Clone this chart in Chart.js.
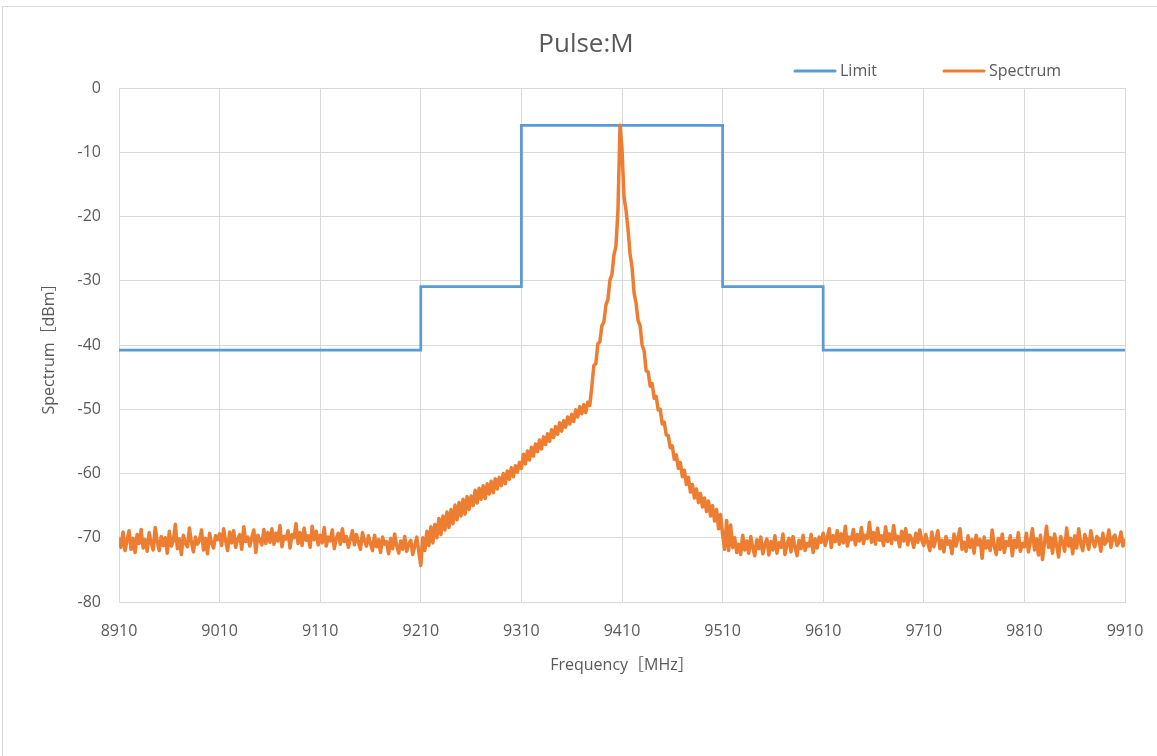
<!DOCTYPE html>
<html>
<head>
<meta charset="utf-8">
<script src="https://cdn.jsdelivr.net/npm/chart.js@4.4.1/dist/chart.umd.min.js"></script>
<style>
  html, body { margin: 0; padding: 0; background: #ffffff; overflow: hidden; }
  #wrap { position: relative; width: 1157px; height: 756px; }
  #frame { position: absolute; left: 2px; top: 6px; width: 1200px; height: 800px; border: 1px solid #d9d9d9; box-sizing: border-box; }
  #c { position: absolute; left: 0; top: 0; }
</style>
</head>
<body>
<div id="wrap">
  <div id="frame"></div>
  <canvas id="c" width="1157" height="756"></canvas>
</div>
<script>
// ---------- data ----------
const chartTitle = 'Pulse:M';
const xAxisTitle = 'Frequency［MHz］';
const yAxisTitle = 'Spectrum［dBm］';
const seriesNames = ['Limit', 'Spectrum'];

const xTickValues = [8910, 9010, 9110, 9210, 9310, 9410, 9510, 9610, 9710, 9810, 9910];
const yTickValues = [0, -10, -20, -30, -40, -50, -60, -70, -80];

// Limit mask (stepped: each value holds until the next frequency)
const limitFreqs = [8910, 9210, 9310, 9510, 9610, 9910];
const limitValues = [-40.8, -30.9, -5.8, -30.9, -40.8, -40.8];

// Spectrum trace, sampled every 2 MHz from 8910 MHz
const spectrumStart = 8910;
const spectrumStep = 2;
const spectrumValues = [
  -70.2,-71.5,-69.1,-72.0,-70.4,-68.9,-71.8,-70.1,-72.3,-69.5,-70.9,-68.7,-71.6,-70.3,-72.1,-69.2,-70.8,-71.9,-68.4,-70.6,-72.0,-69.8,-71.2,-70.0,-72.4,
  -69.0,-71.3,-70.5,-67.9,-71.7,-70.2,-72.6,-69.6,-70.9,-71.4,-68.5,-70.7,-72.2,-69.9,-71.0,-70.4,-68.8,-71.9,-70.1,-72.5,-69.3,-70.8,-71.6,-69.7,-70.3,
  -69.4,-71.2,-68.6,-70.5,-72.0,-69.1,-70.8,-68.9,-71.5,-70.2,-69.5,-71.8,-68.3,-70.6,-69.9,-71.3,-70.0,-68.8,-72.3,-69.6,-70.4,-71.1,-68.7,-70.9,-69.2,
  -70.7,-68.6,-71.0,-69.3,-70.5,-68.1,-71.4,-69.8,-70.2,-68.9,-71.6,-69.5,-70.0,-67.8,-70.9,-69.2,-71.2,-68.5,-70.4,-69.7,-71.5,-68.2,-70.3,-69.0,-71.1,
  -69.6,-70.8,-68.4,-71.3,-69.9,-70.5,-68.8,-71.7,-70.1,-69.3,-71.0,-68.6,-70.6,-69.8,-71.5,-70.2,-68.9,-71.1,-69.5,-70.7,-71.8,-69.2,-70.4,-71.3,-69.7,
  -70.9,-72.0,-69.6,-71.4,-70.3,-72.3,-69.9,-71.0,-70.6,-72.5,-70.1,-71.7,-69.4,-71.2,-72.4,-70.5,-71.8,-69.8,-72.1,-71.0,-70.4,-72.6,-71.3,-69.9,-72.2,
  -74.3,-70.0,-72.0,-69.0,-71.2,-68.3,-70.8,-67.9,-70.0,-67.0,-69.5,-66.6,-68.8,-66.0,-68.4,-65.6,-67.8,-64.9,-67.2,-64.5,-66.6,-64.0,-66.3,-63.6,-65.6,
  -63.5,-65.0,-62.6,-64.6,-62.3,-64.0,-61.9,-63.9,-61.6,-63.2,-61.2,-63.0,-60.8,-62.4,-60.6,-61.9,-60.0,-61.6,-59.6,-60.9,-59.1,-60.5,-58.8,-59.8,-58.3,
  -59.2,-57.0,-58.5,-56.5,-57.9,-55.9,-57.3,-55.4,-56.6,-54.8,-56.2,-54.3,-55.5,-53.8,-55.0,-53.2,-54.4,-52.7,-53.9,-52.1,-53.4,-51.8,-52.8,-51.2,-52.3,
  -50.8,-51.9,-50.1,-51.2,-49.6,-50.7,-49.3,-50.5,-48.9,-49.4,-46.5,-43.2,-42.9,-39.8,-39.5,-37.0,-36.4,-33.8,-32.9,-29.9,-29.0,-26.0,-24.6,-19.0,-5.8,
  -9.5,-17.0,-19.0,-22.0,-25.8,-27.9,-31.9,-33.5,-36.2,-37.0,-40.0,-40.9,-44.0,-44.2,-46.4,-46.0,-48.3,-48.0,-50.1,-50.0,-52.3,-52.0,-54.0,-54.1,-56.0,
  -55.7,-57.8,-57.1,-59.2,-58.3,-60.5,-59.5,-61.7,-60.6,-62.9,-61.7,-63.8,-62.4,-64.5,-63.1,-65.2,-63.8,-65.9,-64.3,-66.6,-65.0,-67.4,-65.6,-68.6,-66.4,
  -69.5,-71.8,-67.3,-72.0,-68.0,-71.5,-70.0,-72.3,-71.0,-72.6,-69.6,-71.9,-70.5,-72.4,-69.8,-71.6,-72.8,-70.3,-71.7,-69.9,-72.5,-71.1,-70.2,-72.7,-70.6,
  -71.9,-69.7,-72.4,-70.8,-71.5,-69.4,-72.6,-71.0,-70.1,-72.2,-69.8,-71.4,-72.8,-70.4,-71.7,-69.6,-72.0,-70.9,-71.3,-69.5,-72.3,-70.2,-71.6,-69.9,-70.7,
  -69.3,-71.2,-70.0,-68.6,-71.5,-69.7,-70.6,-68.9,-71.0,-69.4,-70.8,-68.2,-71.3,-69.9,-70.3,-68.7,-71.1,-69.5,-70.5,-68.4,-70.9,-69.6,-70.1,-67.6,-70.7,
  -69.2,-71.0,-68.5,-70.4,-69.7,-71.2,-68.3,-70.6,-69.4,-70.9,-68.1,-70.3,-69.8,-71.4,-69.0,-70.5,-68.6,-71.1,-69.6,-70.2,-71.5,-69.3,-70.7,-68.8,-70.4,
  -71.2,-69.5,-70.8,-72.0,-69.1,-71.4,-70.2,-68.9,-71.7,-70.4,-72.2,-69.8,-71.0,-70.5,-72.5,-69.4,-71.3,-70.0,-68.6,-71.8,-70.7,-72.1,-69.7,-71.5,-70.3,
  -72.4,-69.6,-71.1,-70.3,-73.2,-69.9,-71.6,-70.5,-72.0,-68.8,-71.3,-72.6,-70.1,-71.8,-69.4,-72.3,-70.6,-71.2,-69.7,-72.8,-70.4,-71.5,-69.2,-72.1,-70.9,
  -71.4,-69.3,-72.2,-70.5,-68.6,-71.9,-70.2,-72.7,-69.6,-73.4,-70.8,-68.2,-71.5,-70.0,-72.4,-69.4,-71.1,-73.0,-69.8,-70.6,-72.1,-68.5,-71.3,-70.1,-72.5,
  -69.7,-71.6,-68.6,-70.9,-72.0,-69.5,-70.4,-71.8,-68.9,-70.6,-71.4,-69.8,-70.2,-72.1,-69.3,-71.0,-70.5,-68.8,-71.5,-70.0,-69.6,-71.2,-70.7,-69.1,-71.3,
  -70.4
];

// ---------- build ----------
const limitPoints = limitFreqs.map((f, i) => ({ x: f, y: limitValues[i] }));
const spectrumPoints = spectrumValues.map((v, i) => ({ x: spectrumStart + i * spectrumStep, y: v }));

const FONT = "'Open Sans', 'Noto Sans CJK JP', sans-serif";
const TEXT = '#595959';
const GRID = '#d9d9d9';

const overlay = {
  id: 'overlay',
  afterDraw(chart) {
    const ctx = chart.ctx;
    ctx.save();
    ctx.fillStyle = TEXT;
    ctx.textBaseline = 'middle';
    ctx.textAlign = 'center';
    ctx.font = "26px " + FONT;
    ctx.fillText(chartTitle, 586, 45);
    ctx.font = "16px " + FONT;
    ctx.textAlign = 'left';
    const legendX = [795, 944];
    chart.data.datasets.forEach((ds, i) => {
      const x0 = legendX[i];
      ctx.strokeStyle = ds.borderColor;
      ctx.lineWidth = 3;
      ctx.lineCap = 'round';
      ctx.beginPath();
      ctx.moveTo(x0, 71);
      ctx.lineTo(x0 + 40, 71);
      ctx.stroke();
      ctx.fillStyle = TEXT;
      ctx.fillText(ds.label, x0 + 45, 71);
    });
    ctx.restore();
  }
};

new Chart(document.getElementById('c'), {
  type: 'line',
  data: {
    datasets: [
      {
        label: seriesNames[0],
        data: limitPoints,
        borderColor: '#5b9bd5',
        backgroundColor: '#5b9bd5',
        borderWidth: 2.75,
        stepped: 'before',
        pointRadius: 0,
        fill: false,
        order: 1
      },
      {
        label: seriesNames[1],
        data: spectrumPoints,
        borderColor: '#ed7d31',
        backgroundColor: '#ed7d31',
        borderWidth: 3.5,
        borderJoinStyle: 'round',
        borderCapStyle: 'round',
        pointRadius: 0,
        tension: 0,
        fill: false,
        order: 0
      }
    ]
  },
  options: {
    responsive: false,
    devicePixelRatio: 1,
    animation: false,
    layout: { padding: { top: 88, right: 32, bottom: 0, left: 0 } },
    plugins: {
      legend: { display: false },
      title: { display: false },
      tooltip: { enabled: false }
    },
    scales: {
      x: {
        type: 'linear',
        min: xTickValues[0],
        max: xTickValues[xTickValues.length - 1],
        afterBuildTicks(scale) { scale.ticks = xTickValues.map(v => ({ value: v })); },
        afterFit(scale) { scale.height = 154; scale.paddingLeft = 0; scale.paddingRight = 0; },
        grid: { color: GRID, lineWidth: 1, drawTicks: false },
        border: { color: GRID, width: 1 },
        ticks: { color: TEXT, font: { family: FONT, size: 16 }, padding: 20, maxRotation: 0, autoSkip: false,
                 callback: (v) => String(v) },
        title: { display: true, text: xAxisTitle, color: TEXT, font: { family: FONT, size: 16 }, padding: { top: 0, bottom: 81 } }
      },
      y: {
        type: 'linear',
        min: yTickValues[yTickValues.length - 1],
        max: yTickValues[0],
        afterBuildTicks(scale) { scale.ticks = yTickValues.map(v => ({ value: v })); },
        afterFit(scale) { scale.width = 119; scale.paddingTop = 0; scale.paddingBottom = 0; },
        grid: { color: GRID, lineWidth: 1, drawTicks: false },
        border: { color: GRID, width: 1 },
        ticks: { color: TEXT, font: { family: FONT, size: 16 }, padding: 18, callback: (v) => String(v) },
        title: { display: true, text: yAxisTitle, color: TEXT, font: { family: FONT, size: 16 }, padding: { top: 40, bottom: 0 } }
      }
    }
  },
  plugins: [overlay]
});
</script>
</body>
</html>
